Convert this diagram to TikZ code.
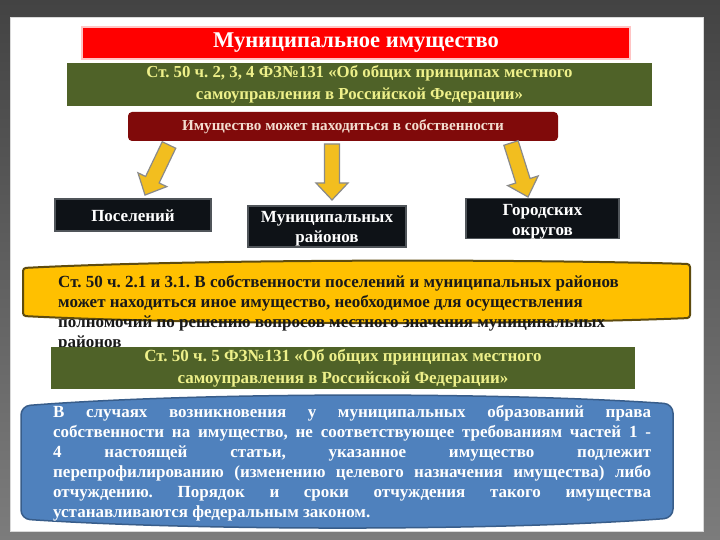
\documentclass[tikz,border=0pt]{standalone}
\usepackage{fontspec}
\setmainfont{Liberation Serif}
\definecolor{bgtop}{HTML}{434343}
\definecolor{bgbot}{HTML}{7C7C7C}
\definecolor{titlered}{HTML}{FF0000}
\definecolor{titleglow}{HTML}{FFC4C4}
\definecolor{olive}{HTML}{4F6228}
\definecolor{olivetext}{HTML}{EEF08A}
\definecolor{darkred}{HTML}{800A0A}
\definecolor{darkredtext}{HTML}{F3DDD0}
\definecolor{arrowfill}{HTML}{F2BE1F}
\definecolor{arrowline}{HTML}{8A8A8A}
\definecolor{boxfill}{HTML}{0E1217}
\definecolor{boxline}{HTML}{50555A}
\definecolor{gold}{HTML}{FFC000}
\definecolor{goldline}{HTML}{5E4B0E}
\definecolor{bluefill}{HTML}{4F81BD}
\definecolor{blueline}{HTML}{385D8A}
\newcommand\blkarrow[4]{% x, y of tail centre, canvas angle, length
  \begin{scope}[shift={(#1,#2)}, rotate=#3]
    \draw[blockarr] (0,-7.5) -- (#4-17,-7.5) -- (#4-17,-16) -- (#4,0)
      -- (#4-17,16) -- (#4-17,7.5) -- (0,7.5) -- cycle;
  \end{scope}}
\begin{document}
\frenchspacing
\begin{tikzpicture}[x=1pt,y=-1pt,
  bar/.style={inner sep=0pt, align=center},
  olivebar/.style={bar, fill=olive, text=olivetext, font=\fontsize{16.8}{21.5}\selectfont\bfseries},
  darkbox/.style={bar, draw=boxline, fill=boxfill, line width=1.5pt},
  boxtext/.style={bar, text=white, font=\fontsize{17}{20}\selectfont\bfseries},
  blockarr/.style={draw=arrowline, fill=arrowfill, line width=1.2pt, line join=miter}
]
\useasboundingbox (0,0) rectangle (720,540);
\shade[top color=bgtop, bottom color=bgbot] (0,0) rectangle (720,540);
\fill[white, draw=black!15] (10,17) rectangle (703,531);

% title
\node[bar, fill=titlered, draw=titleglow, line width=1.5pt, minimum width=548pt, minimum height=32pt, text=white,
  font=\fontsize{22.5}{25}\selectfont\bfseries] (title) at (356,43) {Муниципальное имущество};

% olive law bar 1
\node[olivebar, minimum width=585pt, minimum height=43pt] (law1) at (359.5,84.5)
  {Ст. 50 ч. 2, 3, 4 ФЗ№131 «Об общих принципах местного\\самоуправления в Российской Федерации»};

% dark red bar
\node[bar, fill=darkred, rounded corners=4pt, minimum width=430pt, minimum height=29pt, text=darkredtext,
  font=\fontsize{15.2}{17}\selectfont\bfseries] (own) at (343,126.5) {Имущество может находиться в собственности};

% arrows
\blkarrow{169}{145}{-115.6}{55.5}
\blkarrow{332}{144}{-90}{56}
\blkarrow{511}{143}{-72.5}{56.6}

% black boxes
\node[darkbox, minimum width=156pt, minimum height=32pt] (pos) at (133,215) {};
\node[boxtext] (posT) at ([yshift=-0.5pt]pos.center) {Поселений};
\node[darkbox, minimum width=158pt, minimum height=41pt] (mun) at (327,226.5) {};
\node[boxtext] (munT) at ([yshift=-2pt]mun.center) {Муниципальных\\районов};
\node[darkbox, minimum width=153pt, minimum height=40pt] (gor) at (542.5,218.5) {};
\node[boxtext] (gorT) at ([yshift=-3pt]gor.center) {Городских\\округов};

% gold shape
\draw[fill=gold, draw=goldline, line width=2pt, rounded corners=3pt]
  (23,268) .. controls (200,259) and (520,259) .. (690,264) -- (690,318)
  .. controls (520,325) and (200,325) .. (23,316) -- cycle;
\node[inner sep=0pt, anchor=north west, align=left, text=black!90,
  font=\fontsize{17}{20}\selectfont\bfseries] (gtext) at (58,275)
  {Ст. 50 ч. 2.1 и 3.1. В собственности поселений и муниципальных районов\\
   может находиться иное имущество, необходимое для осуществления\\
   полномочий по решению вопросов местного значения муниципальных\\
   районов};

% olive law bar 2
\node[olivebar, font=\fontsize{17}{22}\selectfont\bfseries, minimum width=584pt, minimum height=42pt] (law2) at (343,368)
  {Ст. 50 ч. 5 ФЗ№131 «Об общих принципах местного\\самоуправления в Российской Федерации»};

% blue shape
\draw[fill=bluefill, draw=blueline, line width=1.5pt, rounded corners=9pt]
  (21,406) .. controls (200,392) and (500,392) .. (673,404) -- (673,518)
  .. controls (500,531) and (200,531) .. (21,519) -- cycle;
\node[inner sep=0pt, anchor=north west, text width=598pt, align=justify, text=white,
  font=\fontsize{17}{20}\selectfont\bfseries] (btext) at (53,405)
  {\hbadness=10000 В случаях возникновения у муниципальных образований права\linebreak
   собственности на имущество, не соответствующее требованиям частей 1 -\linebreak
   4 настоящей статьи, указанное имущество подлежит\linebreak
   перепрофилированию (изменению целевого назначения имущества) либо\linebreak
   отчуждению. Порядок и сроки отчуждения такого имущества\linebreak
   устанавливаются федеральным законом.};
\end{tikzpicture}
\end{document}
